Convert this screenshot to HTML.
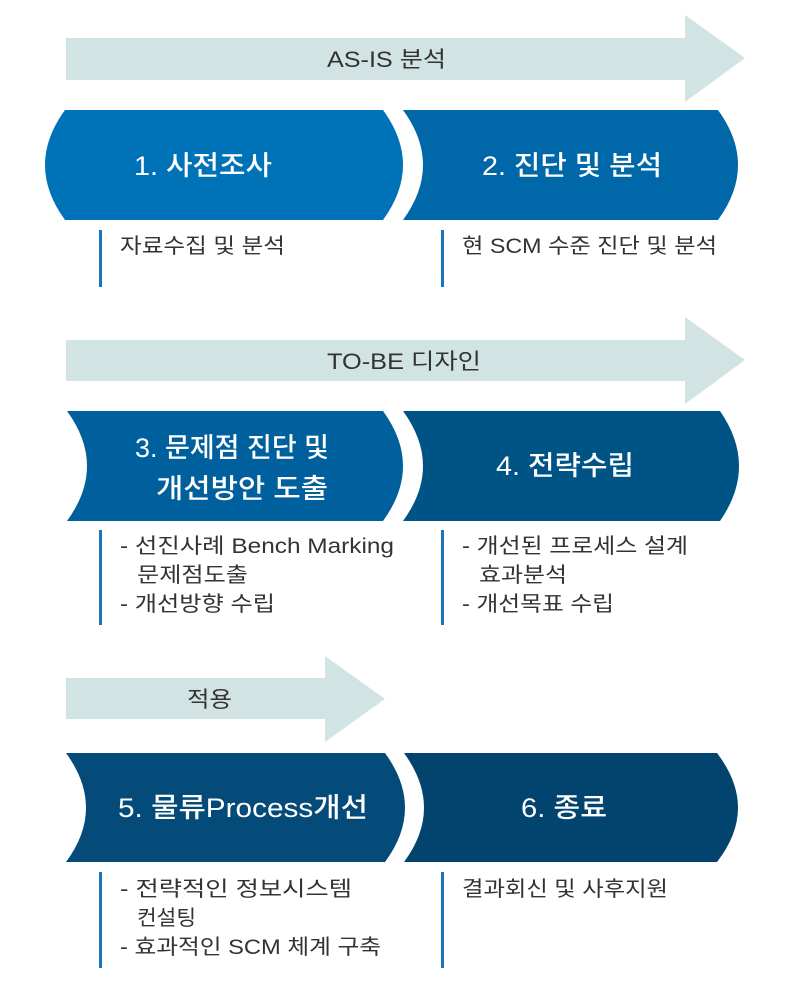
<!DOCTYPE html>
<html><head><meta charset="utf-8"><style>
body{margin:0;background:#fff}
svg{display:block}
text{font-family:"Liberation Sans","Noto Sans CJK KR",sans-serif}
.t{fill:#fff;font-size:27px;font-weight:500}
.a{fill:#333;font-size:22px}
.d{fill:#333;font-size:21px}
</style></head><body>
<svg width="800" height="1000" viewBox="0 0 800 1000">
<polygon fill="#d2e3e3" points="66,38 685,38 685,15 745,58 685,102 685,80 66,80"/>
<text class="a" x="327" y="67" textLength="119" lengthAdjust="spacingAndGlyphs">AS-IS 분석</text>
<polygon fill="#d2e3e3" points="66,340 685,340 685,317 745,360 685,404 685,381 66,381"/>
<text class="a" x="327" y="369" textLength="154" lengthAdjust="spacingAndGlyphs">TO-BE 디자인</text>
<polygon fill="#d2e3e3" points="66,678 325,678 325,656 385,699 325,742 325,719 66,719"/>
<text class="a" x="187" y="707" textLength="45" lengthAdjust="spacingAndGlyphs">적용</text>

<path fill="#0072b8" d="M65,110 L383,110 Q423,165 383,220 L65,220 Q25,165 65,110Z"/>
<path fill="#0067a8" d="M403,110 L718,110 Q758,165 718,220 L403,220 Q443,165 403,110Z"/>
<text class="t" x="134" y="175" textLength="138" lengthAdjust="spacingAndGlyphs">1. 사전조사</text>
<text class="t" x="482" y="175" textLength="180" lengthAdjust="spacingAndGlyphs">2. 진단 및 분석</text>

<path fill="#00609d" d="M67,411 L383,411 Q423,466 383,521 L67,521 Q107,466 67,411Z"/>
<path fill="#005385" d="M403,411 L720,411 Q758,466 720,521 L403,521 Q443,466 403,411Z"/>
<text class="t" x="135" y="457" textLength="194" lengthAdjust="spacingAndGlyphs">3. 문제점 진단 및</text>
<text class="t" x="156" y="498" textLength="172" lengthAdjust="spacingAndGlyphs">개선방안 도출</text>
<text class="t" x="496" y="475" textLength="138" lengthAdjust="spacingAndGlyphs">4. 전략수립</text>

<path fill="#044b79" d="M66,753 L385,753 Q425,808 385,862 L66,862 Q106,808 66,753Z"/>
<path fill="#03446e" d="M404,753 L717,753 Q759,808 717,862 L404,862 Q444,808 404,753Z"/>
<text class="t" x="118" y="817" textLength="250" lengthAdjust="spacingAndGlyphs">5. 물류Process개선</text>
<text class="t" x="521" y="817" textLength="86" lengthAdjust="spacingAndGlyphs">6. 종료</text>

<g fill="#1a75bb">
<rect x="99" y="230" width="3" height="57"/>
<rect x="441" y="230" width="3" height="57"/>
<rect x="99" y="530" width="3" height="95"/>
<rect x="441" y="530" width="3" height="95"/>
<rect x="99" y="872" width="3" height="96"/>
<rect x="441" y="872" width="3" height="96"/>
</g>
<text class="d" x="120" y="253" textLength="165" lengthAdjust="spacingAndGlyphs">자료수집 및 분석</text>
<text class="d" x="462" y="253" textLength="255" lengthAdjust="spacingAndGlyphs">현 SCM 수준 진단 및 분석</text>
<text class="d" x="120" y="553" textLength="274" lengthAdjust="spacingAndGlyphs">- 선진사례 Bench Marking</text>
<text class="d" x="137" y="582" textLength="111" lengthAdjust="spacingAndGlyphs">문제점도출</text>
<text class="d" x="120" y="611" textLength="155" lengthAdjust="spacingAndGlyphs">- 개선방향 수립</text>
<text class="d" x="462" y="553" textLength="226" lengthAdjust="spacingAndGlyphs">- 개선된 프로세스 설계</text>
<text class="d" x="479" y="582" textLength="88" lengthAdjust="spacingAndGlyphs">효과분석</text>
<text class="d" x="462" y="611" textLength="152" lengthAdjust="spacingAndGlyphs">- 개선목표 수립</text>
<text class="d" x="120" y="896" textLength="232" lengthAdjust="spacingAndGlyphs">- 전략적인 정보시스템</text>
<text class="d" x="137" y="925" textLength="59" lengthAdjust="spacingAndGlyphs">컨설팅</text>
<text class="d" x="120" y="954" textLength="261" lengthAdjust="spacingAndGlyphs">- 효과적인 SCM 체계 구축</text>
<text class="d" x="462" y="896" textLength="206" lengthAdjust="spacingAndGlyphs">결과회신 및 사후지원</text>
</svg>
</body></html>
